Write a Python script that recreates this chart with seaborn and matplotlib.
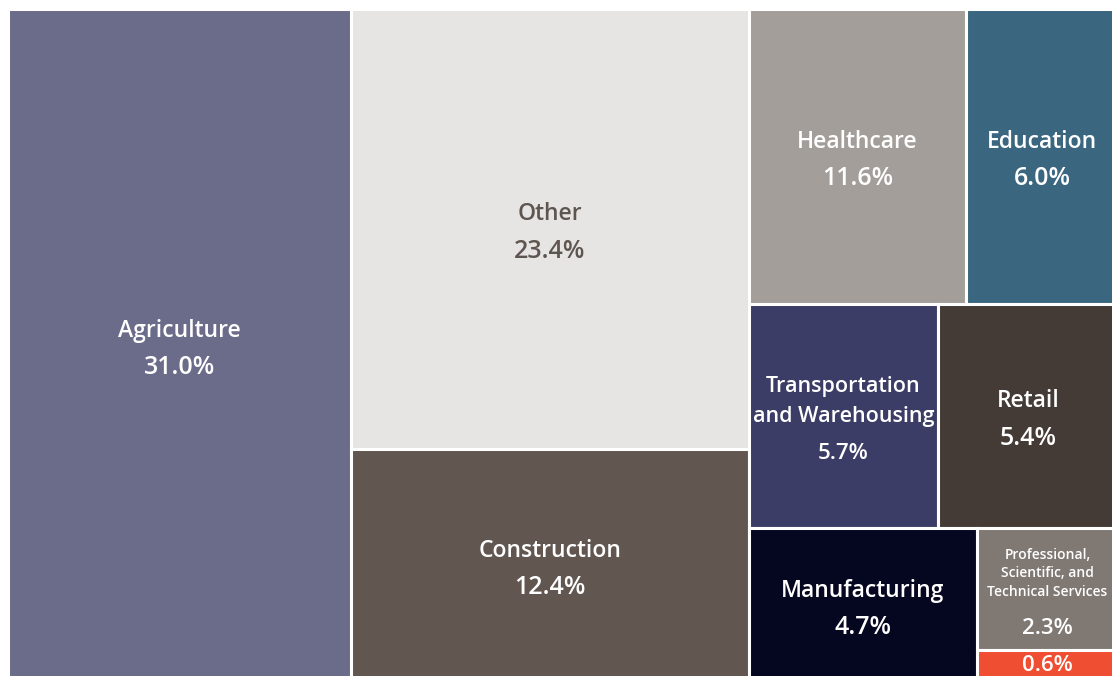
import matplotlib
matplotlib.use("Agg")
import matplotlib.pyplot as plt
from matplotlib.patches import Rectangle
import seaborn as sns

# Data (area share of each box, and the label printed in it)
sectors = ["Agriculture", "Other", "Construction", "Healthcare", "Education",
           "Transportation\nand Warehousing", "Retail", "Manufacturing",
           "Professional,\nScientific, and\nTechnical Services", ""]
area_share = [31.0, 23.4, 12.4, 8.6, 6.0, 5.7, 5.4, 4.7, 2.3, 0.6]
pct_labels = ["31.0%", "23.4%", "12.4%", "11.6%", "6.0%",
              "5.7%", "5.4%", "4.7%", "2.3%", "0.6%"]

colors = ["#6b6b8a", "#e6e5e3", "#615650", "#a39e99", "#3a6680",
          "#3c3d66", "#443a36", "#05061f", "#807873", "#f04e33"]
text_colors = ["white", "#5e5550"] + ["white"] * 8


# squarified treemap layout
def layout_row(sizes, x, y, dx, dy):
    width = sum(sizes) / dy
    rects, yy = [], y
    for s in sizes:
        rects.append((x, yy, width, s / width))
        yy += s / width
    return rects


def layout_col(sizes, x, y, dx, dy):
    height = sum(sizes) / dx
    rects, xx = [], x
    for s in sizes:
        rects.append((xx, y, s / height, height))
        xx += s / height
    return rects


def layout(sizes, x, y, dx, dy):
    if dx >= dy:
        return layout_row(sizes, x, y, dx, dy)
    return layout_col(sizes, x, y, dx, dy)


def leftover(sizes, x, y, dx, dy):
    if dx >= dy:
        w = sum(sizes) / dy
        return x + w, y, dx - w, dy
    h = sum(sizes) / dx
    return x, y + h, dx, dy - h


def worst(sizes, x, y, dx, dy):
    return max(max(w / h, h / w) for _, _, w, h in layout(sizes, x, y, dx, dy))


def squarify(sizes, x, y, dx, dy):
    if len(sizes) == 0:
        return []
    if len(sizes) == 1:
        return layout(sizes, x, y, dx, dy)
    i = 1
    while i < len(sizes) and worst(sizes[:i], x, y, dx, dy) >= worst(sizes[:i + 1], x, y, dx, dy):
        i += 1
    cur, rest = sizes[:i], sizes[i:]
    return layout(cur, x, y, dx, dy) + squarify(rest, *leftover(cur, x, y, dx, dy))


sns.set_theme(style="white")
plt.rcParams["font.family"] = ["Open Sans", "Noto Sans", "DejaVu Sans"]

W, H = 1112, 676
# treemap runs a little past the right and bottom edge of the picture
x0, y0, x1, y1 = 7.5, 8.5, 1118, 682
total = sum(area_share)
scaled = [v * (x1 - x0) * (y1 - y0) / total for v in area_share]
rects = squarify(scaled, x0, y0, x1 - x0, y1 - y0)

fig = plt.figure(figsize=(W / 100, H / 100), dpi=100)
ax = fig.add_axes([0, 0, 1, 1])
ax.set_xlim(0, W)
ax.set_ylim(H, 0)
ax.axis("off")

pal = sns.color_palette(colors)
for (x, y, w, h), c in zip(rects, pal):
    ax.add_patch(Rectangle((x, y), w, h, facecolor=c, edgecolor="white", linewidth=2.2))

renderer = fig.canvas.get_renderer()
px = 100 / 72
weight = "semibold"
for (x, y, w, h), name, pct, tc in zip(rects, sectors, pct_labels, text_colors):
    cx, cy = x + w / 2, y + h / 2
    if name == "":
        ax.text(cx, min(cy + 12, H - 5), pct, ha="center", va="baseline", color=tc,
                fontsize=16, fontweight=weight)
        continue
    lines = name.split("\n")
    # shrink the name until its widest line fits the visible part of the box
    room = min(w, 2 * (W - cx)) * 0.97
    size = 16.5
    probe = ax.text(0, 0, max(lines, key=len), fontsize=size, fontweight=weight)
    while probe.get_window_extent(renderer).width > room and size > 8:
        size -= 0.5
        probe.set_fontsize(size)
    probe.remove()
    pct_size = 18 if size >= 16.5 else 16
    cap = 0.714 * size * px
    step = 1.35 * size * px
    gap = 37.5
    block = cap + (len(lines) - 1) * step + gap
    base = cy + 2 - block / 2 + cap
    for k, line in enumerate(lines):
        ax.text(cx, base + k * step, line, ha="center", va="baseline", color=tc,
                fontsize=size, fontweight=weight)
    ax.text(cx, base + (len(lines) - 1) * step + gap, pct, ha="center", va="baseline",
            color=tc, fontsize=pct_size, fontweight=weight)

fig.savefig("out.png", dpi=100)
